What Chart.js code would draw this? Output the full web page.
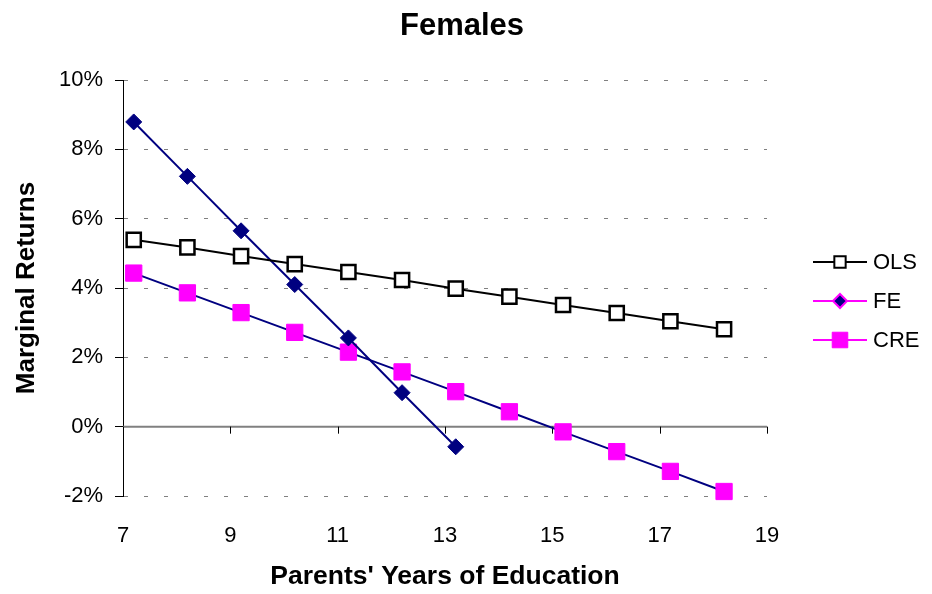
<!DOCTYPE html>
<html>
<head>
<meta charset="utf-8">
<script src="https://cdn.jsdelivr.net/npm/chart.js@4.4.1/dist/chart.umd.min.js"></script>
<style>
  html, body { margin: 0; padding: 0; background: #fff; }
</style>
</head>
<body>
<canvas id="chart" width="932" height="594"></canvas>
<script>
/* ---------- DATA ---------- */

const chartTitle = "Females";
const xTitle = "Parents' Years of Education";
const yTitle = "Marginal Returns";
const seriesNames = ["OLS", "FE", "CRE"];

const years = [7.2, 8.2, 9.2, 10.2, 11.2, 12.2, 13.2, 14.2, 15.2, 16.2, 17.2, 18.2];
const olsValues = [5.39, 5.17, 4.92, 4.69, 4.46, 4.23, 3.98, 3.75, 3.51, 3.28, 3.04, 2.81];
const feValues = [8.79, 7.22, 5.65, 4.10, 2.56, 0.98, -0.58];
const creValues = [4.43, 3.86, 3.29, 2.72, 2.15, 1.58, 1.01, 0.43, -0.15, -0.72, -1.29, -1.87];

const xTicks = [7, 9, 11, 13, 15, 17, 19];
const yTicks = [-2, 0, 2, 4, 6, 8, 10];

/* ---------- HELPERS ---------- */

const FONT = "'Liberation Sans', Arial, sans-serif";
const toPoints = (values) => values.map((v, i) => ({ x: years[i], y: v }));

// legend entries keep the Excel look (line + marker)
const legendItems = [
  { text: seriesNames[0], line: "#000000", style: "rect", radius: 8, fill: "#ffffff", border: "#000000", bw: 2 },
  { text: seriesNames[1], line: "#ff00ff", style: "rectRot", radius: 7, fill: "#000080", border: "#ff00ff", bw: 2 },
  { text: seriesNames[2], line: "#ff00ff", style: "rect", radius: 11, fill: "#ff00ff", border: "#ff00ff", bw: 1 },
];

const extrasPlugin = {
  id: "extras",
  beforeDatasetsDraw(chart) {
    const { ctx, chartArea, scales } = chart;
    const y0 = scales.y.getPixelForValue(0);
    ctx.save();
    // zero axis line
    ctx.strokeStyle = "#808080";
    ctx.lineWidth = 2;
    ctx.beginPath();
    ctx.moveTo(chartArea.left, y0);
    ctx.lineTo(chartArea.right, y0);
    ctx.stroke();
    // tick marks on the zero line
    ctx.strokeStyle = "#000000";
    ctx.lineWidth = 1;
    xTicks.forEach((t) => {
      const x = Math.round(scales.x.getPixelForValue(t)) + 0.5;
      ctx.beginPath();
      ctx.moveTo(x, y0);
      ctx.lineTo(x, y0 + 7);
      ctx.stroke();
    });
    ctx.restore();
  },
  afterDraw(chart) {
    const { ctx } = chart;
    ctx.save();
    // title
    ctx.fillStyle = "#000";
    ctx.font = "bold 31px " + FONT;
    ctx.textAlign = "center";
    ctx.textBaseline = "middle";
    ctx.fillText(chartTitle, 462, 26);

    // legend
    const rowY = [262, 301, 340];
    legendItems.forEach((item, i) => {
      const y = rowY[i];
      ctx.strokeStyle = item.line;
      ctx.lineWidth = 2;
      ctx.beginPath();
      ctx.moveTo(813, y);
      ctx.lineTo(867, y);
      ctx.stroke();
      ctx.fillStyle = item.fill;
      ctx.strokeStyle = item.border;
      ctx.lineWidth = item.bw;
      Chart.helpers.drawPoint(ctx, { pointStyle: item.style, radius: item.radius, rotation: 0, borderWidth: item.bw }, 840, y);
      ctx.fillStyle = "#000";
      ctx.font = "22px " + FONT;
      ctx.textAlign = "left";
      ctx.textBaseline = "middle";
      ctx.fillText(item.text, 873, y + 1);
    });
    ctx.restore();
  },
};

/* ---------- CHART ---------- */

new Chart(document.getElementById("chart"), {
  type: "line",
  data: {
    datasets: [
      {
        label: seriesNames[0],
        data: toPoints(olsValues),
        borderColor: "#000000",
        borderWidth: 2,
        pointStyle: "rect",
        pointRadius: 10,
        pointBackgroundColor: "#ffffff",
        pointBorderColor: "#000000",
        pointBorderWidth: 2.5,
        clip: false,
      },
      {
        label: seriesNames[1],
        data: toPoints(feValues),
        borderColor: "#000080",
        borderWidth: 2,
        pointStyle: "rectRot",
        pointRadius: 8,
        pointBackgroundColor: "#000080",
        pointBorderColor: "#000080",
        pointBorderWidth: 1,
        clip: false,
      },
      {
        label: seriesNames[2],
        data: toPoints(creValues),
        borderColor: "#000080",
        borderWidth: 2,
        pointStyle: "rect",
        pointRadius: 11.5,
        pointBackgroundColor: "#ff00ff",
        pointBorderColor: "#ff00ff",
        pointBorderWidth: 1,
        clip: false,
      },
    ],
  },
  options: {
    responsive: false,
    animation: false,
    layout: { padding: { top: 80, right: 165, left: 0, bottom: 0 } },
    plugins: {
      legend: { display: false },
      title: { display: false },
      tooltip: { enabled: false },
    },
    scales: {
      x: {
        type: "linear",
        min: 7,
        max: 19,
        afterBuildTicks: (scale) => {
          scale.ticks = xTicks.map((v) => ({ value: v }));
        },
        ticks: {
          color: "#000",
          font: { family: FONT, size: 22 },
          padding: 27,
          maxRotation: 0,
        },
        grid: { display: false, drawTicks: false },
        border: { display: false },
        title: {
          display: true,
          text: xTitle,
          color: "#000",
          font: { family: FONT, size: 26.5, weight: "bold" },
          padding: { top: 0, bottom: 1 },
        },
        afterFit: (scale) => {
          scale.height = 98;
        },
      },
      y: {
        min: -2,
        max: 10,
        afterBuildTicks: (scale) => {
          scale.ticks = yTicks.map((v) => ({ value: v }));
        },
        ticks: {
          color: "#000",
          font: { family: FONT, size: 22 },
          padding: 12,
          callback: (v) => v + "%",
        },
        grid: {
          color: (c) => (c.tick && c.tick.value === 0 ? "rgba(0,0,0,0)" : "#808080"),
          lineWidth: 1,
          tickLength: 8,
          tickColor: "#000000",
          tickBorderDash: [],
        },
        border: { display: true, color: "#000000", width: 1, dash: [4, 16] },
        title: {
          display: true,
          text: yTitle,
          color: "#000",
          font: { family: FONT, size: 26, weight: "bold" },
          padding: { top: 11, bottom: 0 },
        },
        afterFit: (scale) => {
          scale.width = 123;
        },
      },
    },
  },
  plugins: [extrasPlugin],
});
</script>
</body>
</html>
